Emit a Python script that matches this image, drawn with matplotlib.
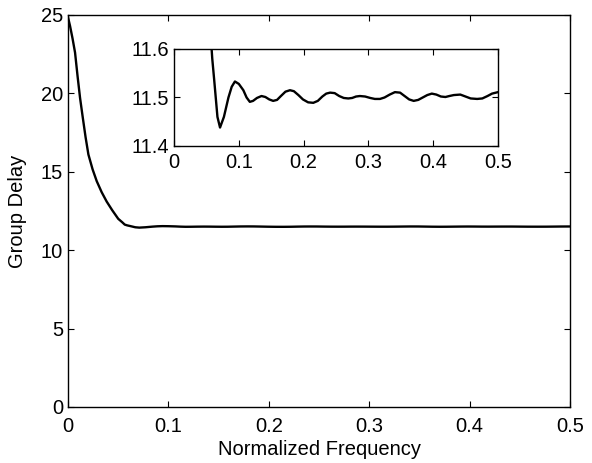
import matplotlib
matplotlib.use("Agg")
import matplotlib.pyplot as plt

plt.rcParams['font.family'] = ['Liberation Sans', 'DejaVu Sans']

# Group delay curve
freq = [0.000, 0.002, 0.0045, 0.007, 0.0095, 0.012, 0.0146, 0.0175, 0.0203, 0.0245,
        0.0286, 0.0335, 0.0385, 0.044, 0.050, 0.054, 0.0565, 0.059, 0.062, 0.067,
        0.071, 0.077, 0.084, 0.089, 0.094, 0.100, 0.107, 0.112, 0.117, 0.122,
        0.128, 0.135, 0.141, 0.147, 0.153, 0.159, 0.165, 0.172, 0.179, 0.185,
        0.192, 0.199, 0.207, 0.215, 0.222, 0.229, 0.235, 0.241, 0.248, 0.255,
        0.262, 0.269, 0.275, 0.281, 0.287, 0.295, 0.303, 0.310, 0.318, 0.325,
        0.333, 0.341, 0.349, 0.356, 0.363, 0.370, 0.377, 0.384, 0.391, 0.398,
        0.405, 0.412, 0.419, 0.425, 0.432, 0.442, 0.450, 0.458, 0.468, 0.476,
        0.484, 0.491, 0.500]
delay = [24.85, 24.30, 23.50, 22.60, 21.10, 19.70, 18.50, 17.20, 16.10, 15.15,
         14.40, 13.70, 13.10, 12.55, 12.00, 11.78, 11.63, 11.58, 11.536, 11.460,
         11.438, 11.460, 11.500, 11.522, 11.533, 11.528, 11.515, 11.500, 11.491, 11.493,
         11.499, 11.503, 11.501, 11.496, 11.493, 11.495, 11.503, 11.512, 11.515, 11.513,
         11.505, 11.496, 11.490, 11.489, 11.493, 11.502, 11.508, 11.510, 11.509, 11.503,
         11.499, 11.498, 11.499, 11.502, 11.503, 11.502, 11.499, 11.497, 11.497, 11.500,
         11.506, 11.511, 11.510, 11.503, 11.496, 11.493, 11.495, 11.500, 11.505, 11.508,
         11.506, 11.502, 11.501, 11.503, 11.505, 11.506, 11.502, 11.498, 11.497, 11.498,
         11.503, 11.508, 11.511]

main_yticks = [0, 5, 10, 15, 20, 25]
main_xticks = [0, 0.1, 0.2, 0.3, 0.4, 0.5]
inset_yticks = [11.4, 11.5, 11.6]
inset_xticks = [0, 0.1, 0.2, 0.3, 0.4, 0.5]
xtick_labels = ['0', '0.1', '0.2', '0.3', '0.4', '0.5']

fs = 14.5

fig = plt.figure(figsize=(5.92, 4.63), dpi=100)
ax = fig.add_axes([0.1149, 0.121, 0.848, 0.8467])
ax.plot(freq, delay, color='black', linewidth=1.7)
ax.set_xlim(0, 0.5)
ax.set_ylim(0, 25)
ax.set_xticks(main_xticks)
ax.set_xticklabels(xtick_labels)
ax.set_yticks(main_yticks)
ax.tick_params(direction='in', top=True, right=True, labelsize=fs, length=4)
ax.tick_params(axis='x', pad=7)
ax.tick_params(axis='y', pad=3.6)
ax.set_xlabel('Normalized Frequency', fontsize=fs, labelpad=3)
ax.set_ylabel('Group Delay', fontsize=fs, labelpad=10)
for s in ax.spines.values():
    s.set_linewidth(1.0)

axin = fig.add_axes([0.294, 0.6847, 0.547, 0.2095])
axin.plot(freq, delay, color='black', linewidth=1.7)
axin.set_xlim(0, 0.5)
axin.set_ylim(11.4, 11.6)
axin.set_xticks(inset_xticks)
axin.set_xticklabels(xtick_labels)
axin.set_yticks(inset_yticks)
axin.set_yticklabels(['11.4', '11.5', '11.6'])
axin.tick_params(direction='in', top=True, right=True, labelsize=fs, length=4)
axin.tick_params(axis='x', pad=5)
axin.tick_params(axis='y', pad=3.6)
for s in axin.spines.values():
    s.set_linewidth(1.0)

fig.savefig('out.png', dpi=100)
